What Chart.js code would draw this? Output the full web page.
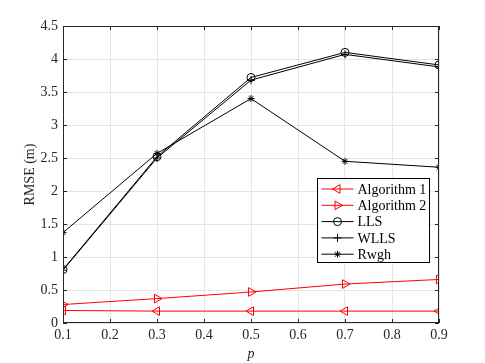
<!DOCTYPE html>
<html>
<head>
<meta charset="utf-8">
<script src="https://cdn.jsdelivr.net/npm/chart.js@4"></script>
<style>
  html, body { margin: 0; padding: 0; background: #fff; }
  #wrap { width: 485px; height: 363px; }
</style>
</head>
<body>
<div id="wrap"><canvas id="rmseChart" width="485" height="363"></canvas></div>
<script>
// values
const pValues = [0.1, 0.3, 0.5, 0.7, 0.9];
const alg1 = [0.19, 0.18, 0.18, 0.18, 0.18];
const alg2 = [0.28, 0.37, 0.47, 0.59, 0.66];
const lls = [0.81, 2.52, 3.72, 4.10, 3.91];
const wlls = [0.80, 2.50, 3.68, 4.07, 3.88];
const rwgh = [1.37, 2.57, 3.40, 2.45, 2.36];
const xTicks = [0.1, 0.2, 0.3, 0.4, 0.5, 0.6, 0.7, 0.8, 0.9];
const yTicks = [0, 0.5, 1, 1.5, 2, 2.5, 3, 3.5, 4, 4.5];
const seriesNames = ['Algorithm 1', 'Algorithm 2', 'LLS', 'WLLS', 'Rwgh'];

const FONT = '"Liberation Serif", "Times New Roman", serif';
const AXIS = '#262626';

function toPoints(ys) {
    return pValues.map((p, i) => ({ x: p, y: ys[i] }));
}

function makeSet(label, ys, color, style, rot, radius) {
    return {
        label: label,
        data: toPoints(ys),
        borderColor: color,
        backgroundColor: 'rgba(0,0,0,0)',
        borderWidth: 1,
        pointStyle: style,
        pointRotation: rot,
        pointRadius: radius,
        pointBorderColor: color,
        pointBorderWidth: 1,
        pointBackgroundColor: 'rgba(0,0,0,0)',
        tension: 0
    };
}

// box, inward ticks and the legend drawn the MATLAB way
const matlabBox = {
    id: 'matlabBox',
    afterDraw(chart) {
        const { ctx, chartArea: a, scales } = chart;
        ctx.save();
        ctx.strokeStyle = AXIS;
        ctx.lineWidth = 1;
        ctx.strokeRect(a.left + 0.5, a.top + 0.5, a.right - a.left - 1, a.bottom - a.top - 1);
        const len = 4;
        ctx.beginPath();
        xTicks.forEach(v => {
            const px = Math.round(scales.x.getPixelForValue(v)) + 0.5;
            ctx.moveTo(px, a.bottom); ctx.lineTo(px, a.bottom - len);
            ctx.moveTo(px, a.top); ctx.lineTo(px, a.top + len);
        });
        yTicks.forEach(v => {
            const py = Math.round(scales.y.getPixelForValue(v)) + 0.5;
            ctx.moveTo(a.left, py); ctx.lineTo(a.left + len, py);
            ctx.moveTo(a.right, py); ctx.lineTo(a.right - len, py);
        });
        ctx.stroke();

        // legend
        const lx = 317.5, ly = 178.5, lw = 112, lh = 84;
        ctx.fillStyle = '#fff';
        ctx.fillRect(lx, ly, lw, lh);
        ctx.strokeStyle = '#000';
        ctx.strokeRect(lx, ly, lw, lh);
        ctx.font = '14px ' + FONT;
        ctx.textBaseline = 'middle';
        ctx.textAlign = 'left';
        chart.data.datasets.forEach((ds, i) => {
            const y = ly + 10.5 + i * 16.3;
            ctx.strokeStyle = ds.borderColor;
            ctx.lineWidth = 1;
            ctx.beginPath();
            ctx.moveTo(lx + 4, y);
            ctx.lineTo(lx + 36, y);
            ctx.stroke();
            ctx.fillStyle = 'rgba(0,0,0,0)';
            Chart.helpers.drawPoint(ctx, {
                pointStyle: ds.pointStyle,
                rotation: ds.pointRotation,
                radius: ds.pointRadius,
                borderWidth: 1
            }, lx + 20, y);
            ctx.fillStyle = '#000';
            ctx.fillText(ds.label, lx + 40, y + 1);
        });
        ctx.restore();
    }
};

const ctx = document.getElementById('rmseChart').getContext('2d');
new Chart(ctx, {
    type: 'line',
    data: {
        datasets: [
            makeSet(seriesNames[0], alg1, '#ff0000', 'triangle', -90, 5),
            makeSet(seriesNames[1], alg2, '#ff0000', 'triangle', 90, 5),
            makeSet(seriesNames[2], lls, '#000000', 'circle', 0, 4),
            makeSet(seriesNames[3], wlls, '#000000', 'cross', 0, 4),
            makeSet(seriesNames[4], rwgh, '#000000', 'star', 0, 3.5)
        ]
    },
    options: {
        responsive: false,
        animation: false,
        layout: { padding: { top: 26, right: 46, left: 0, bottom: 0 } },
        plugins: {
            legend: { display: false },
            tooltip: { enabled: false }
        },
        scales: {
            x: {
                type: 'linear',
                min: 0.1,
                max: 0.9,
                afterBuildTicks: s => { s.ticks = xTicks.map(v => ({ value: v })); },
                afterFit: s => { s.height = 40; },
                ticks: {
                    callback: v => v.toFixed(1),
                    color: AXIS,
                    font: { family: FONT, size: 14 },
                    padding: 4,
                    maxRotation: 0,
                    autoSkip: false
                },
                grid: { color: '#e5e5e5', drawTicks: false },
                border: { display: false },
                title: {
                    display: true,
                    text: 'p',
                    color: AXIS,
                    font: { family: FONT, size: 14, style: 'italic' },
                    padding: { top: 2, bottom: 0 }
                }
            },
            y: {
                min: 0,
                max: 4.5,
                afterBuildTicks: s => { s.ticks = yTicks.map(v => ({ value: v })); },
                afterFit: s => { s.width = 63; },
                ticks: {
                    callback: v => String(v),
                    color: AXIS,
                    font: { family: FONT, size: 14 },
                    padding: 5,
                    autoSkip: false
                },
                grid: { color: '#e5e5e5', drawTicks: false },
                border: { display: false },
                title: {
                    display: true,
                    text: 'RMSE (m)',
                    color: AXIS,
                    font: { family: FONT, size: 14 },
                    padding: { top: 22, bottom: 0 }
                }
            }
        }
    },
    plugins: [matlabBox]
});
</script>
</body>
</html>
